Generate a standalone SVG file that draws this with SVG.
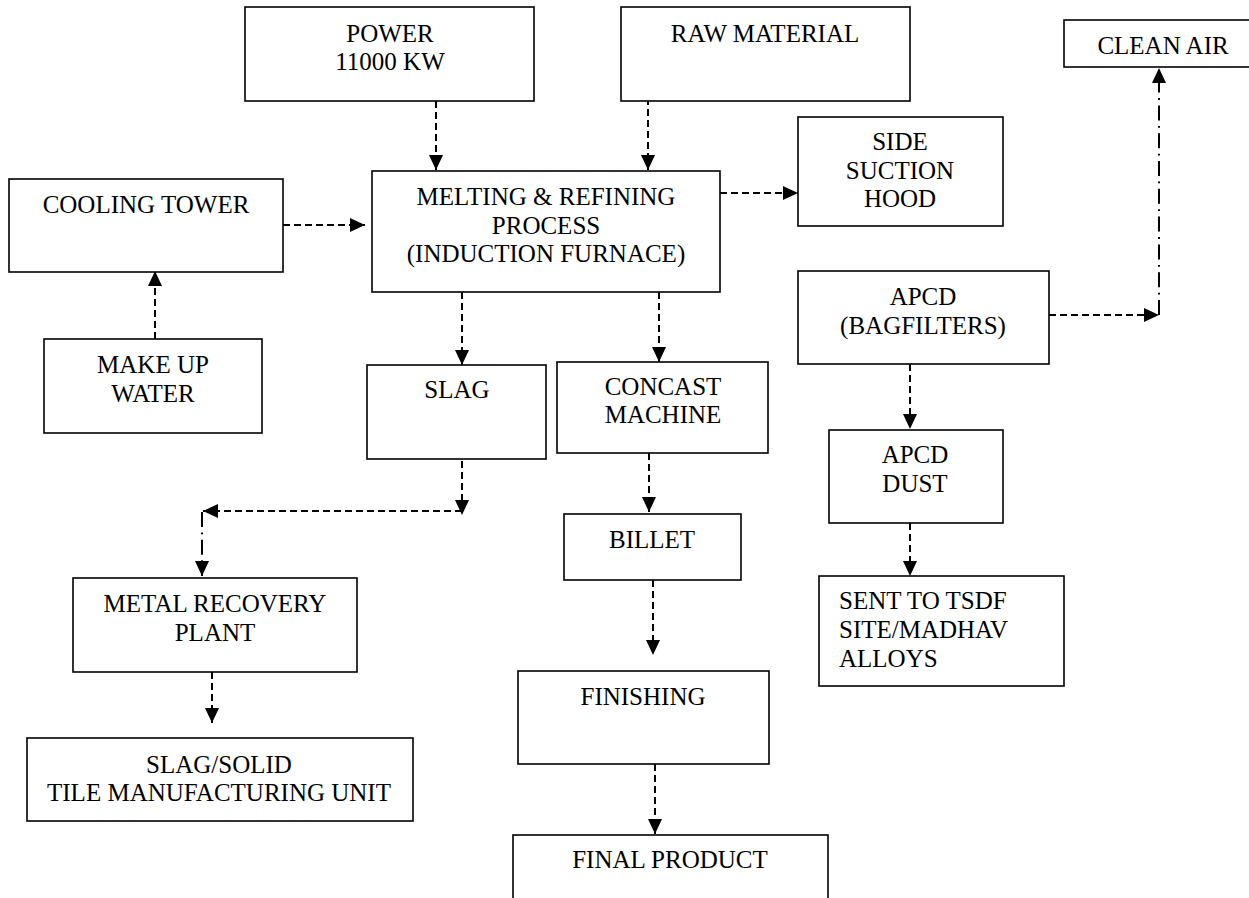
<svg xmlns="http://www.w3.org/2000/svg" width="1249" height="898" viewBox="0 0 1249 898">
<style>
.box{fill:#fff;stroke:#000;stroke-width:1.6}
.t{font-family:"Liberation Serif","Times New Roman",serif;font-size:25px;fill:#000;text-anchor:middle}
.tl{font-family:"Liberation Serif","Times New Roman",serif;font-size:25px;fill:#000;text-anchor:start}
.d{fill:none;stroke:#000;stroke-width:2;stroke-dasharray:7 4}
.dd{fill:none;stroke:#000;stroke-width:2;stroke-dasharray:15 5.5 1.8 5.5}
</style>
<defs>
<marker id="ah" markerUnits="userSpaceOnUse" markerWidth="15" markerHeight="14" refX="15" refY="7" orient="auto" viewBox="0 0 15 14">
<path d="M0,0 L15,7 L0,14 z" fill="#000"/>
</marker>
</defs>
<rect width="1249" height="898" fill="#fff"/>
<g id="connectors">
<line class="d" x1="436" y1="101" x2="436" y2="170" marker-end="url(#ah)"/>
<line class="d" x1="648" y1="98" x2="648" y2="170" marker-end="url(#ah)"/>
<line class="d" x1="283" y1="225" x2="365" y2="225" marker-end="url(#ah)"/>
<line class="d" x1="155" y1="339" x2="155" y2="271" marker-end="url(#ah)"/>
<line class="d" x1="720" y1="193" x2="798" y2="193" marker-end="url(#ah)"/>
<line class="d" x1="462" y1="292" x2="462" y2="365" marker-end="url(#ah)"/>
<line class="d" x1="659" y1="292" x2="659" y2="362" marker-end="url(#ah)"/>
<line class="d" x1="462" y1="461" x2="462" y2="515" marker-end="url(#ah)"/>
<line class="d" x1="462" y1="511" x2="203" y2="511" marker-end="url(#ah)"/>
<line class="dd" x1="202" y1="512" x2="202" y2="576" marker-end="url(#ah)"/>
<line class="d" x1="212" y1="672" x2="212" y2="723" marker-end="url(#ah)"/>
<line class="d" x1="649" y1="453" x2="649" y2="512" marker-end="url(#ah)"/>
<line class="d" x1="653" y1="580" x2="653" y2="655" marker-end="url(#ah)"/>
<line class="d" x1="655" y1="764" x2="655" y2="834" marker-end="url(#ah)"/>
<line class="d" x1="1049" y1="315" x2="1159" y2="315" marker-end="url(#ah)"/>
<line class="dd" x1="1159" y1="315" x2="1159" y2="68" marker-end="url(#ah)"/>
<line class="d" x1="910" y1="364" x2="910" y2="429" marker-end="url(#ah)"/>
<line class="d" x1="910" y1="523" x2="910" y2="576" marker-end="url(#ah)"/>
</g>
<g id="power">
<rect class="box" x="245" y="7" width="289" height="94"/>
<text class="t" x="390" y="42">POWER</text>
<text class="t" x="390" y="70">11000 KW</text>
</g>
<g id="raw-material">
<rect class="box" x="621" y="7" width="289" height="94"/>
<text class="t" x="765" y="42">RAW MATERIAL</text>
</g>
<g id="clean-air">
<rect class="box" x="1064" y="20" width="200" height="47"/>
<text class="t" x="1163" y="54">CLEAN AIR</text>
</g>
<g id="melting">
<rect class="box" x="372" y="171" width="348" height="121"/>
<text class="t" x="546" y="205">MELTING &amp; REFINING</text>
<text class="t" x="546" y="234">PROCESS</text>
<text class="t" x="546" y="262">(INDUCTION FURNACE)</text>
</g>
<g id="side-suction-hood">
<rect class="box" x="798" y="117" width="205" height="109"/>
<text class="t" x="900" y="150">SIDE</text>
<text class="t" x="900" y="179">SUCTION</text>
<text class="t" x="900" y="207">HOOD</text>
</g>
<g id="cooling-tower">
<rect class="box" x="9" y="179" width="274" height="93"/>
<text class="t" x="146" y="213">COOLING TOWER</text>
</g>
<g id="make-up-water">
<rect class="box" x="44" y="339" width="218" height="94"/>
<text class="t" x="153" y="373">MAKE UP</text>
<text class="t" x="153" y="402">WATER</text>
</g>
<g id="apcd-bagfilters">
<rect class="box" x="798" y="271" width="251" height="93"/>
<text class="t" x="923" y="305">APCD</text>
<text class="t" x="923" y="334">(BAGFILTERS)</text>
</g>
<g id="slag">
<rect class="box" x="367" y="365" width="179" height="94"/>
<text class="t" x="457" y="398">SLAG</text>
</g>
<g id="concast-machine">
<rect class="box" x="557" y="362" width="211" height="91"/>
<text class="t" x="663" y="395">CONCAST</text>
<text class="t" x="663" y="423">MACHINE</text>
</g>
<g id="apcd-dust">
<rect class="box" x="829" y="430" width="174" height="93"/>
<text class="t" x="915" y="463">APCD</text>
<text class="t" x="915" y="492">DUST</text>
</g>
<g id="billet">
<rect class="box" x="564" y="514" width="177" height="66"/>
<text class="t" x="652" y="548">BILLET</text>
</g>
<g id="sent-to-tsdf">
<rect class="box" x="819" y="576" width="245" height="110"/>
<text class="tl" x="839" y="609">SENT TO TSDF</text>
<text class="tl" x="839" y="638">SITE/MADHAV</text>
<text class="tl" x="839" y="667">ALLOYS</text>
</g>
<g id="metal-recovery-plant">
<rect class="box" x="73" y="578" width="284" height="94"/>
<text class="t" x="215" y="612">METAL RECOVERY</text>
<text class="t" x="215" y="641">PLANT</text>
</g>
<g id="finishing">
<rect class="box" x="518" y="671" width="251" height="93"/>
<text class="t" x="643" y="705">FINISHING</text>
</g>
<g id="slag-solid">
<rect class="box" x="27" y="738" width="386" height="83"/>
<text class="t" x="219" y="773">SLAG/SOLID</text>
<text class="t" x="219" y="801">TILE MANUFACTURING UNIT</text>
</g>
<g id="final-product">
<rect class="box" x="513" y="835" width="315" height="100"/>
<text class="t" x="670" y="868">FINAL PRODUCT</text>
</g>
</svg>
